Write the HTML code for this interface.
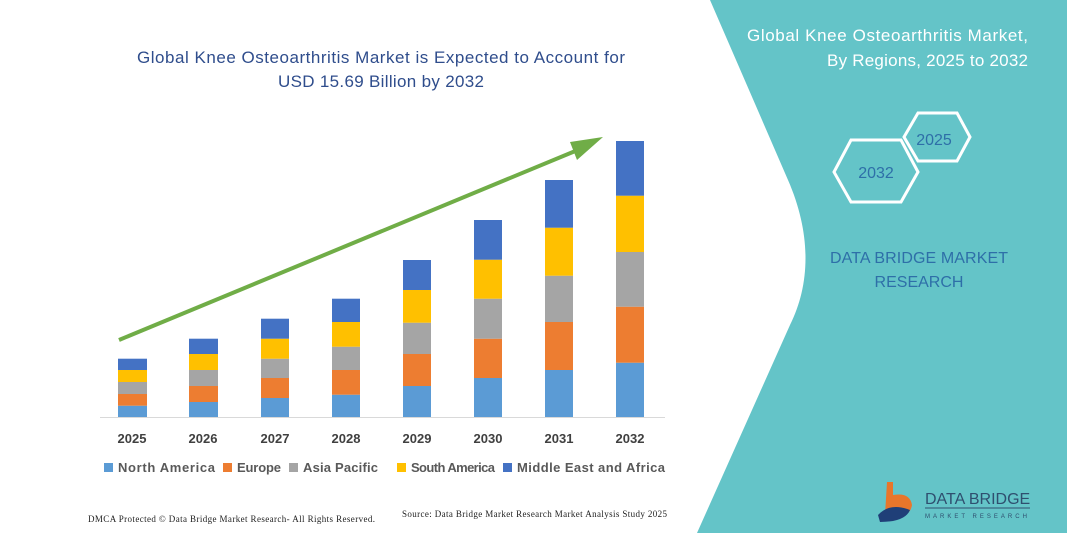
<!DOCTYPE html>
<html><head><style>
body{margin:0;width:1067px;height:533px;overflow:hidden;background:#fff;font-family:"Liberation Sans",sans-serif;}
</style></head><body>
<svg width="1067" height="533" viewBox="0 0 1067 533" xmlns="http://www.w3.org/2000/svg" style="position:absolute;left:0;top:0">
<path d="M710,0 L1067,0 L1067,533 L697,533 L790,325 C810,285 812,235 788,180 Z" fill="#64c4c8"/>
<text x="381" y="63" text-anchor="middle" font-size="17" fill="#2f4d8c" textLength="488">Global Knee Osteoarthritis Market is Expected to Account for</text>
<text x="381" y="87" text-anchor="middle" font-size="17" fill="#2f4d8c" textLength="206">USD 15.69 Billion by 2032</text>
<line x1="100" y1="417.5" x2="665" y2="417.5" stroke="#d9d9d9" stroke-width="1"/>
<g>
<rect x="118" y="405.7" width="29" height="11.3" fill="#5b9bd5"/><rect x="118" y="394" width="29" height="11.7" fill="#ed7d31"/><rect x="118" y="382" width="29" height="12" fill="#a5a5a5"/><rect x="118" y="370" width="29" height="12" fill="#ffc000"/><rect x="118" y="358.7" width="29" height="11.3" fill="#4472c4"/>
<rect x="189" y="402" width="29" height="15" fill="#5b9bd5"/><rect x="189" y="386" width="29" height="16" fill="#ed7d31"/><rect x="189" y="370" width="29" height="16" fill="#a5a5a5"/><rect x="189" y="354" width="29" height="16" fill="#ffc000"/><rect x="189" y="338.7" width="29" height="15.3" fill="#4472c4"/>
<rect x="261" y="398" width="28" height="19" fill="#5b9bd5"/><rect x="261" y="378" width="28" height="20" fill="#ed7d31"/><rect x="261" y="358.7" width="28" height="19.3" fill="#a5a5a5"/><rect x="261" y="338.7" width="28" height="20" fill="#ffc000"/><rect x="261" y="318.7" width="28" height="20" fill="#4472c4"/>
<rect x="332" y="394.7" width="28" height="22.3" fill="#5b9bd5"/><rect x="332" y="370" width="28" height="24.7" fill="#ed7d31"/><rect x="332" y="346.7" width="28" height="23.3" fill="#a5a5a5"/><rect x="332" y="322" width="28" height="24.7" fill="#ffc000"/><rect x="332" y="298.7" width="28" height="23.3" fill="#4472c4"/>
<rect x="403" y="386" width="28" height="31" fill="#5b9bd5"/><rect x="403" y="354" width="28" height="32" fill="#ed7d31"/><rect x="403" y="322.7" width="28" height="31.3" fill="#a5a5a5"/><rect x="403" y="290" width="28" height="32.7" fill="#ffc000"/><rect x="403" y="260" width="28" height="30" fill="#4472c4"/>
<rect x="474" y="378" width="28" height="39" fill="#5b9bd5"/><rect x="474" y="338.7" width="28" height="39.3" fill="#ed7d31"/><rect x="474" y="298.7" width="28" height="40" fill="#a5a5a5"/><rect x="474" y="259.7" width="28" height="39" fill="#ffc000"/><rect x="474" y="220" width="28" height="39.7" fill="#4472c4"/>
<rect x="545" y="370" width="28" height="47" fill="#5b9bd5"/><rect x="545" y="322" width="28" height="48" fill="#ed7d31"/><rect x="545" y="275.7" width="28" height="46.3" fill="#a5a5a5"/><rect x="545" y="227.7" width="28" height="48" fill="#ffc000"/><rect x="545" y="180" width="28" height="47.7" fill="#4472c4"/>
<rect x="616" y="362.7" width="28" height="54.3" fill="#5b9bd5"/><rect x="616" y="306.7" width="28" height="56" fill="#ed7d31"/><rect x="616" y="252" width="28" height="54.7" fill="#a5a5a5"/><rect x="616" y="195.7" width="28" height="56.3" fill="#ffc000"/><rect x="616" y="141" width="28" height="54.7" fill="#4472c4"/>
</g>
<line x1="119" y1="340" x2="585" y2="147" stroke="#70ad47" stroke-width="4"/>
<polygon points="603,137 577,160 570,142" fill="#70ad47"/>
<g font-size="13" font-weight="bold" fill="#404040" text-anchor="middle">
<text x="132" y="443">2025</text><text x="203" y="443">2026</text><text x="275" y="443">2027</text><text x="346" y="443">2028</text><text x="417" y="443">2029</text><text x="488" y="443">2030</text><text x="559" y="443">2031</text><text x="630" y="443">2032</text>
</g>
<g font-size="13" font-weight="bold" fill="#595959">
<rect x="104" y="463" width="9" height="9" fill="#5b9bd5"/><text x="118" y="472" textLength="97">North America</text>
<rect x="223" y="463" width="9" height="9" fill="#ed7d31"/><text x="237" y="472" textLength="44">Europe</text>
<rect x="289" y="463" width="9" height="9" fill="#a5a5a5"/><text x="303" y="472" textLength="75">Asia Pacific</text>
<rect x="397" y="463" width="9" height="9" fill="#ffc000"/><text x="411" y="472" textLength="84">South America</text>
<rect x="503" y="463" width="9" height="9" fill="#4472c4"/><text x="517" y="472" textLength="148">Middle East and Africa</text>
</g>
<text x="88" y="522" font-family="Liberation Serif,serif" font-size="9" fill="#222" textLength="287">DMCA Protected © Data Bridge Market Research- All Rights Reserved.</text>
<text x="402" y="517" font-family="Liberation Serif,serif" font-size="9" fill="#222" textLength="265">Source: Data Bridge Market Research Market Analysis Study 2025</text>
<g font-size="17" fill="#fff" text-anchor="end">
<text x="1028" y="41" textLength="281">Global Knee Osteoarthritis Market,</text>
<text x="1028" y="66" textLength="201">By Regions, 2025 to 2032</text>
</g>
<polygon points="904,137 918,113 957,113 970,137 957,161 918,161" fill="none" stroke="#fff" stroke-width="3"/>
<polygon points="834,172 851,140 901,140 918,172 901,202 851,202" fill="none" stroke="#fff" stroke-width="3"/>
<text x="934" y="145" text-anchor="middle" font-size="16" fill="#2e6fa8">2025</text>
<text x="876" y="178" text-anchor="middle" font-size="16" fill="#2e6fa8">2032</text>
<text x="919" y="263" text-anchor="middle" font-size="16" fill="#2e6fa8" textLength="178">DATA BRIDGE MARKET</text>
<text x="919" y="287" text-anchor="middle" font-size="16" fill="#2e6fa8">RESEARCH</text>
<path d="M887,482 L893,482 L893,495 Q910,492 912,505 Q910,518 893,515 L885,515 Z" fill="#e8762b"/>
<path d="M878,515 Q890,502 910,510 Q905,522 880,522 Z" fill="#1f3f78"/>
<text x="925" y="504" font-size="16" fill="#2f4f6f">DATA BRIDGE</text>
<line x1="925" y1="508" x2="1030" y2="508" stroke="#2f4f6f" stroke-width="1"/>
<text x="925" y="518" font-size="6" fill="#2f4f6f" letter-spacing="3">MARKET RESEARCH</text>
</svg>
</body></html>
